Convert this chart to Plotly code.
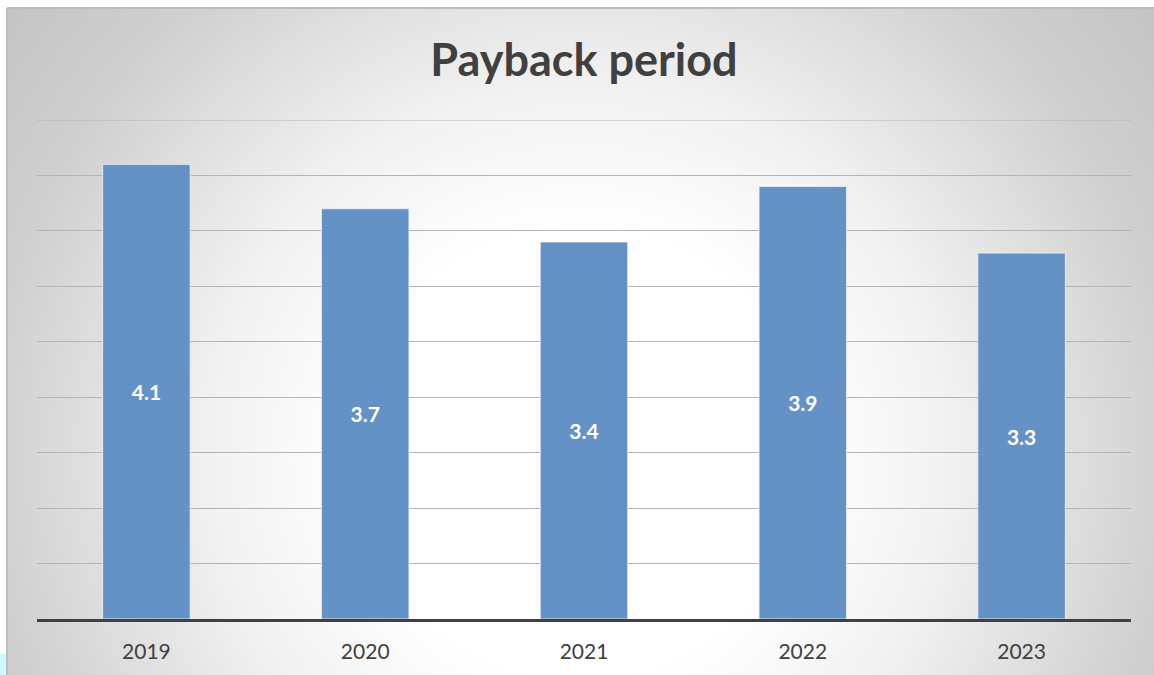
import base64
import plotly.graph_objects as go

# Payback period by year
years = ["2019", "2020", "2021", "2022", "2023"]
payback = [4.1, 3.7, 3.4, 3.9, 3.3]
y_max = 4.5
y_step = 0.5

W, H = 1154, 675
ML, MR, MT, MB = 37, 23, 120, 56
PW, PH = W - ML - MR, H - MT - MB
GRID = "#b4b4b4"

def px_to_paper_x(px):
    return (px - ML) / PW

def px_to_paper_y(py):
    return (H - MB - py) / PH

# Radial grey-to-white backdrop drawn as an SVG image behind the plot
bg_x0, bg_y0, bg_x1, bg_y1 = 7, 8, W, H
bw, bh = bg_x1 - bg_x0, bg_y1 - bg_y0
svg = f"""<svg xmlns='http://www.w3.org/2000/svg' width='{bw}' height='{bh}' viewBox='0 0 {bw} {bh}' preserveAspectRatio='none'>
<defs><radialGradient id='g' gradientUnits='userSpaceOnUse' cx='{573}' cy='{445}' r='745'>
<stop offset='0' stop-color='#ffffff'/>
<stop offset='0.3' stop-color='#ffffff'/>
<stop offset='0.5' stop-color='#f1f1f1'/>
<stop offset='0.8' stop-color='#cfcfcf'/>
<stop offset='1' stop-color='#c3c3c3'/>
</radialGradient></defs>
<rect x='0' y='0' width='{bw}' height='{bh}' fill='url(#g)'/>
</svg>"""
bg_src = "data:image/svg+xml;base64," + base64.b64encode(svg.encode()).decode()

fig = go.Figure(
    go.Bar(
        x=years,
        y=payback,
        marker=dict(color="#6592c6", line=dict(color="rgba(235,242,250,0.85)", width=1)),
        text=[f"{v:.1f}" for v in payback],
        textposition="inside",
        insidetextanchor="middle",
        textangle=0,
        insidetextfont=dict(family="Lato", size=21, color="white", weight="bold"),
        hoverinfo="x+y",
    )
)

fig.update_layout(
    width=W,
    height=H,
    margin=dict(l=ML, r=MR, t=MT, b=MB, autoexpand=False),
    paper_bgcolor="white",
    plot_bgcolor="rgba(0,0,0,0)",
    bargap=0.6,
    showlegend=False,
    title=dict(
        text="<b>Payback period</b>",
        x=0.5,
        xref="paper",
        xanchor="center",
        y=1 - 60 / H,
        yref="container",
        yanchor="middle",
        font=dict(family="Lato", size=45, color="#404040"),
    ),
    font=dict(family="Lato", color="#404040"),
    images=[
        dict(
            source=bg_src,
            xref="paper",
            yref="paper",
            x=px_to_paper_x(bg_x0),
            y=px_to_paper_y(bg_y0),
            sizex=px_to_paper_x(bg_x1) - px_to_paper_x(bg_x0),
            sizey=px_to_paper_y(bg_y0) - px_to_paper_y(bg_y1),
            xanchor="left",
            yanchor="top",
            sizing="stretch",
            layer="below",
        )
    ],
    shapes=[
        # top gridline at the axis maximum
        dict(type="line", xref="paper", yref="y", x0=0, x1=1,
             y0=y_max, y1=y_max, layer="below",
             line=dict(color=GRID, width=1)),
        # frame edges of the chart area
        dict(type="line", xref="paper", yref="paper",
             x0=px_to_paper_x(bg_x0), x1=px_to_paper_x(bg_x1),
             y0=px_to_paper_y(bg_y0), y1=px_to_paper_y(bg_y0),
             line=dict(color="#bdbdbd", width=2)),
        dict(type="line", xref="paper", yref="paper",
             x0=px_to_paper_x(bg_x0), x1=px_to_paper_x(bg_x0),
             y0=px_to_paper_y(bg_y0), y1=px_to_paper_y(bg_y1),
             line=dict(color="#bdbdbd", width=2)),
        # small cyan patch at the lower-left edge
        dict(type="rect", xref="paper", yref="paper",
             x0=px_to_paper_x(0), x1=px_to_paper_x(6),
             y0=px_to_paper_y(654), y1=px_to_paper_y(H),
             line=dict(width=0), fillcolor="#cdfafa"),
    ],
)

fig.update_xaxes(
    showgrid=False,
    showline=True,
    linecolor="#404040",
    linewidth=3,
    ticks="",
    ticklabelstandoff=12,
    tickfont=dict(family="Lato", size=21, color="#404040"),
)

fig.update_yaxes(
    range=[0, y_max],
    tick0=0,
    dtick=y_step,
    showgrid=True,
    gridcolor=GRID,
    gridwidth=1,
    zeroline=False,
    showticklabels=False,
    ticks="",
)

fig.write_html("out.html")
